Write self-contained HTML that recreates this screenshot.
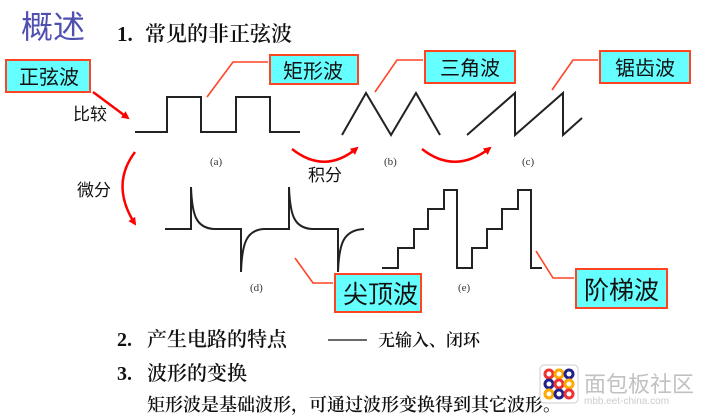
<!DOCTYPE html>
<html><head><meta charset="utf-8"><style>
html,body{margin:0;padding:0;background:#fff;width:716px;height:416px;overflow:hidden}
svg{display:block}
.s{font-family:"Liberation Serif","Noto Serif CJK SC",serif;fill:#111}
.b{font-family:"Liberation Sans","Noto Sans CJK SC",sans-serif;fill:#111}
</style></head><body>
<svg width="716" height="416" viewBox="0 0 716 416" xmlns="http://www.w3.org/2000/svg">
<defs><marker id="ah" markerWidth="8" markerHeight="8" refX="6" refY="4" orient="auto" markerUnits="userSpaceOnUse"><path d="M0,0 L8,4 L0,8 z" fill="#f00"/></marker></defs>
<text x="21" y="38" class="b" style="fill:#5050b0;font-size:32px">概述</text>
<text x="117" y="41" class="s" style="font-size:21px;font-weight:bold">1.</text>
<text x="145" y="41" class="s" style="font-size:21px;font-weight:600">常见的非正弦波</text>
<g stroke="#ff4422" stroke-width="2" fill="#66ffff">
<rect x="6" y="60" width="84" height="32"/>
<rect x="270" y="55" width="88" height="29"/>
<rect x="425" y="51" width="90" height="32"/>
<rect x="600" y="51" width="90" height="32"/>
<rect x="335" y="274" width="86" height="38"/>
<rect x="576" y="269" width="91" height="39"/>
</g>
<g class="b" style="font-size:20px">
<text x="19" y="84">正弦波</text>
<text x="283" y="78">矩形波</text>
<text x="440" y="75">三角波</text>
<text x="615" y="75">锯齿波</text>
<text x="343" y="303" style="font-size:25px">尖顶波</text>
<text x="584" y="299" style="font-size:25px">阶梯波</text>
<text x="73" y="120" style="font-size:17px">比较</text>
<text x="77" y="196" style="font-size:17px">微分</text>
<text x="308" y="181" style="font-size:17px">积分</text>
</g>
<g fill="none" stroke="#ff4422" stroke-width="1.6">
<path d="M207,97 L233,62 L268,62"/>
<path d="M375,92 L397,60 L423,60"/>
<path d="M552,90 L573,60 L598,60"/>
<path d="M295,258 L313,283 L333,283"/>
<path d="M536,251 L553,278 L574,278"/>
</g>
<g fill="none" stroke="#f00" stroke-width="2.5">
<path d="M93,92 L128,118" marker-end="url(#ah)"/>
<path d="M135,152 Q110,185 135,224" marker-end="url(#ah)"/>
<path d="M292,149 Q325,175 357,148" marker-end="url(#ah)"/>
<path d="M422,149 Q455,175 490,148" marker-end="url(#ah)"/>
</g>
<g fill="none" stroke="#222" stroke-width="2">
<path d="M135,132 H167 V97 H201 V132 H236 V97 H270 V132 H300"/>
<path d="M342,135 L366,93 L391,135 L416,93 L440,135"/>
<path d="M467,135 L515,93 V135 L563,93 V135 L582,118"/>
<path d="M165,229 H191 V187 C192,215 196,228 214,229 H241 V272 C242,244 246,230 264,229 H289 V187 C290,215 294,228 312,229 H338 V272 C339,244 343,230 364,229"/>
<path d="M382,268 H398 V248 H414 V229 H428 V209 H444 V190 H457 V268 H472 V248 H487 V229 H502 V209 H518 V190 H531 V268 H542"/>
</g>
<g class="s" style="font-size:11px;fill:#333">
<text x="210" y="165">(a)</text>
<text x="384" y="165">(b)</text>
<text x="522" y="165">(c)</text>
<text x="250" y="291">(d)</text>
<text x="458" y="291">(e)</text>
</g>
<text x="117" y="346" class="s" style="font-size:20px;font-weight:bold">2.</text>
<text x="147" y="346" class="s" style="font-size:20px;font-weight:600">产生电路的特点</text>
<line x1="328" y1="340" x2="367" y2="340" stroke="#111" stroke-width="1.3"/>
<text x="378" y="346" class="s" style="font-size:17px;font-weight:600">无输入、闭环</text>
<text x="117" y="380" class="s" style="font-size:20px;font-weight:bold">3.</text>
<text x="147" y="380" class="s" style="font-size:20px;font-weight:600">波形的变换</text>
<text x="147" y="411" class="s" style="font-size:18px;font-weight:600">矩形波是基础波形，可通过波形变换得到其它波形。</text>
<rect x="540" y="365" width="38" height="38" rx="4" fill="#fff" stroke="#ccc"/>
<g fill="none" stroke-width="3">
<circle cx="549" cy="374" r="4" stroke="#e33"/><circle cx="559" cy="374" r="4" stroke="#fa0"/><circle cx="569" cy="374" r="4" stroke="#228"/>
<circle cx="549" cy="384" r="4" stroke="#228"/><circle cx="559" cy="384" r="4" stroke="#e33"/><circle cx="569" cy="384" r="4" stroke="#fa0"/>
<circle cx="549" cy="394" r="4" stroke="#fa0"/><circle cx="559" cy="394" r="4" stroke="#228"/><circle cx="569" cy="394" r="4" stroke="#e33"/>
</g>
<text x="584" y="392" class="b" style="font-size:22px;fill:#bbb;opacity:.9">面包板社区</text>
<text x="584" y="404" class="b" style="font-size:10px;fill:#ccc">mbb.eet-china.com</text>
</svg>
</body></html>
